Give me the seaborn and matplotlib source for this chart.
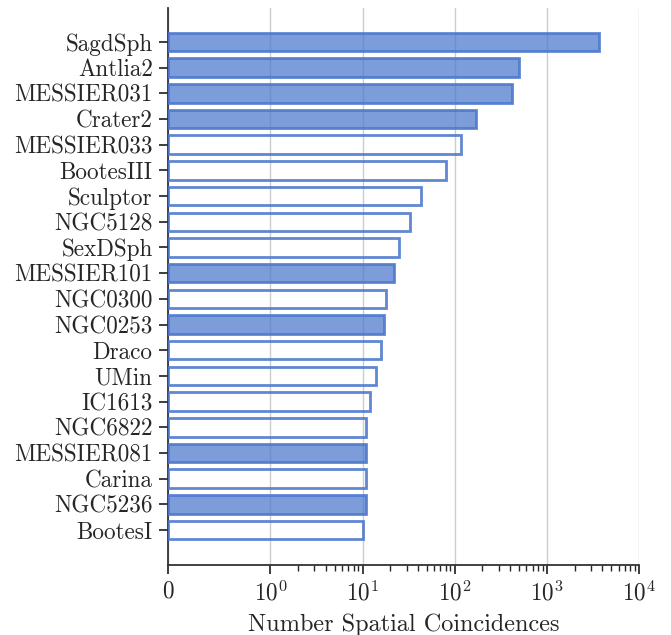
import matplotlib
matplotlib.use("Agg")
import matplotlib.pyplot as plt
import matplotlib.colors as mcolors
import seaborn as sns
import pandas as pd

galaxies = ["SagdSph", "Antlia2", "MESSIER031", "Crater2", "MESSIER033",
            "BootesIII", "Sculptor", "NGC5128", "SexDSph", "MESSIER101",
            "NGC0300", "NGC0253", "Draco", "UMin", "IC1613",
            "NGC6822", "MESSIER081", "Carina", "NGC5236", "BootesI"]
coincidences = [3700, 500, 417, 170, 116,
                80, 43, 33, 25, 22,
                18, 17, 16, 14, 12,
                11, 11, 11, 11, 10]
filled = [True, True, True, True, False,
          False, False, False, False, True,
          False, True, False, False, False,
          False, True, False, True, False]

sns.set_theme(style="ticks")
plt.rcParams["font.family"] = ["cmr10", "DejaVu Serif"]
plt.rcParams["mathtext.fontset"] = "cm"
plt.rcParams["axes.formatter.use_mathtext"] = True
plt.rcParams["axes.unicode_minus"] = False

df = pd.DataFrame({"galaxy": galaxies, "count": coincidences})

fig = plt.figure(figsize=(6.71, 6.35), dpi=100)
ax = fig.add_axes([168 / 671, 1 - 565 / 635, (639 - 168) / 671, (565 - 8) / 635])

base = "#4a76cc"
sns.barplot(data=df, x="count", y="galaxy", orient="h", color=base,
            width=0.72, linewidth=2, ax=ax, zorder=3)

face = mcolors.to_rgba(base, 0.72)
edge = mcolors.to_rgba(base, 0.88)
for patch, is_filled in zip(ax.patches, filled):
    patch.set_edgecolor(edge)
    patch.set_facecolor(face if is_filled else "none")

ax.set_xscale("symlog", linthresh=1, subs=[2, 3, 4, 5, 6, 7, 8, 9])
ax.set_xlim(0, 1e4)
ax.set_ylim(20.36, -1.32)
ax.xaxis.grid(True, color="#cccccc", linewidth=1.0, zorder=0)
ax.set_axisbelow(True)

ax.set_xlabel("Number Spatial Coincidences", fontsize=17.5, labelpad=6)
ax.set_ylabel("")
ax.tick_params(axis="both", labelsize=16.7, colors=".15")
ax.tick_params(axis="both", which="major", length=6.5, width=1.25, pad=4.5)
ax.tick_params(axis="x", which="minor", length=4, width=1)
for s in ("left", "bottom"):
    ax.spines[s].set_color(".2")
    ax.spines[s].set_linewidth(1.3)
sns.despine(ax=ax)

fig.savefig("out.png", dpi=100)
